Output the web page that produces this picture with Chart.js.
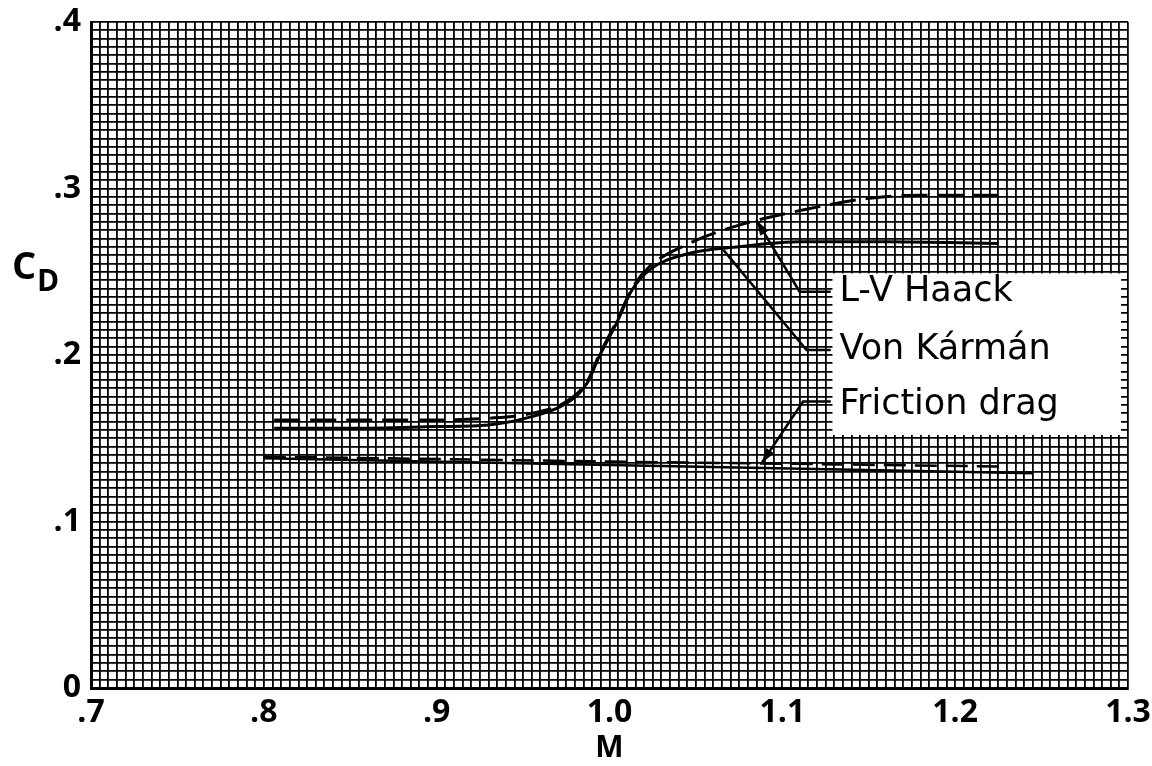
<!DOCTYPE html>
<html>
<head>
<meta charset="utf-8">
<script src="https://cdn.jsdelivr.net/npm/chart.js@4.4.1/dist/chart.umd.min.js"></script>
<style>
  html, body { margin: 0; padding: 0; background: #fff; }
  canvas { display: block; }
</style>
</head>
<body>
<canvas id="dragChart" width="1152" height="766"></canvas>
<script>
// =========================
// DATA
// =========================

const haackM  = [0.806, 0.85, 0.90, 0.93, 0.955, 0.975, 0.987, 0.994, 1.004, 1.013, 1.023, 1.046, 1.075, 1.116, 1.149, 1.18, 1.225];
const haackCD = [0.161, 0.161, 0.161, 0.162, 0.165, 0.172, 0.184, 0.200, 0.220, 0.240, 0.253, 0.267, 0.278, 0.288, 0.294, 0.296, 0.296];

const karmanM  = [0.806, 0.85, 0.90, 0.93, 0.955, 0.975, 0.987, 0.994, 1.004, 1.013, 1.023, 1.046, 1.075, 1.11, 1.16, 1.225];
const karmanCD = [0.156, 0.156, 0.157, 0.158, 0.163, 0.171, 0.183, 0.199, 0.219, 0.239, 0.251, 0.261, 0.265, 0.268, 0.268, 0.267];

const frictionSolidM  = [0.80, 1.00, 1.245];
const frictionSolidCD = [0.138, 0.134, 0.129];

const frictionDashM  = [0.80, 1.00, 1.23];
const frictionDashCD = [0.139, 0.136, 0.133];

// leader lines: label end -> curve end
const haackLeadM  = [1.128, 1.110, 1.085];
const haackLeadCD = [0.238, 0.238, 0.281];

const karmanLeadM  = [1.128, 1.114, 1.066];
const karmanLeadCD = [0.203, 0.203, 0.263];

const frictionLeadM  = [1.128, 1.112, 1.088];
const frictionLeadCD = [0.172, 0.172, 0.135];

const labelNames = ["L-V Haack", "Von Kármán", "Friction drag"];
const labelCD    = [0.238, 0.203, 0.170];

const xTickLabels = { "0.7": ".7", "0.8": ".8", "0.9": ".9", "1": "1.0", "1.1": "1.1", "1.2": "1.2", "1.3": "1.3" };
const yTickLabels = { "0": "0", "0.1": ".1", "0.2": ".2", "0.3": ".3", "0.4": ".4" };

function pts(xs, ys)
{
  return xs.map((x, i) => ({ x: x, y: ys[i] }));
}

function isMajor(v)
{
  return Math.abs(v * 10 - Math.round(v * 10)) < 1e-6;
}

function keyOf(v)
{
  return String(Math.round(v * 10) / 10);
}

// =========================
// PLUGIN: box, labels, arrows
// =========================

const decorPlugin = {
  id: "decor",
  beforeDraw(chart)
  {
    const c = chart.ctx;
    c.save();
    c.fillStyle = "#fff";
    c.fillRect(0, 0, chart.width, chart.height);
    c.restore();
  },
  afterDatasetsDraw(chart)
  {
    const c = chart.ctx;
    const xs = chart.scales.x;
    const ys = chart.scales.y;

    // label box
    const bx0 = xs.getPixelForValue(1.129);
    const bx1 = xs.getPixelForValue(1.296);
    const by0 = ys.getPixelForValue(0.249);
    const by1 = ys.getPixelForValue(0.152);

    c.save();
    c.fillStyle = "#fff";
    c.fillRect(bx0, by0, bx1 - bx0, by1 - by0);

    c.fillStyle = "#000";
    c.font = "35px 'DejaVu Sans'";
    c.textBaseline = "middle";
    c.textAlign = "left";
    labelNames.forEach((name, i) =>
    {
      c.fillText(name, bx0 + 7, ys.getPixelForValue(labelCD[i]));
    });

    // arrow heads on leader ends
    chart.data.datasets.forEach((ds, i) =>
    {
      if(!ds.arrow) return;
      const meta = chart.getDatasetMeta(i);
      const n = meta.data.length;
      const p1 = meta.data[n - 2];
      const p2 = meta.data[n - 1];
      const ang = Math.atan2(p2.y - p1.y, p2.x - p1.x);
      const len = 16;
      c.beginPath();
      c.moveTo(p2.x, p2.y);
      c.lineTo(p2.x - len * Math.cos(ang - 0.3), p2.y - len * Math.sin(ang - 0.3));
      c.lineTo(p2.x - len * Math.cos(ang + 0.3), p2.y - len * Math.sin(ang + 0.3));
      c.closePath();
      c.fill();
    });

    // C_D axis label
    c.font = "bold 38px 'Open Sans'";
    c.textBaseline = "middle";
    c.fillText("C", 12, 268);
    c.font = "bold 30px 'Open Sans'";
    c.fillText("D", 37, 282);
    c.restore();
  }
};

// =========================
// CHART
// =========================

const lineBase = {
  pointRadius: 0,
  borderColor: "#000",
  fill: false
};

const tickFont = { family: "'Open Sans'", size: 32, weight: "bold" };

const ctx = document.getElementById("dragChart");

const dragChart = new Chart(ctx, {
  type: "line",
  data: {
    datasets: [
      Object.assign({}, lineBase, {
        label: "L-V Haack",
        data: pts(haackM, haackCD),
        borderWidth: 3,
        borderDash: [26, 10],
        cubicInterpolationMode: "monotone"
      }),
      Object.assign({}, lineBase, {
        label: "Von Kármán",
        data: pts(karmanM, karmanCD),
        borderWidth: 3,
        cubicInterpolationMode: "monotone"
      }),
      Object.assign({}, lineBase, {
        label: "Friction drag",
        data: pts(frictionSolidM, frictionSolidCD),
        borderWidth: 2.5,
        tension: 0
      }),
      Object.assign({}, lineBase, {
        label: "Friction drag (dashed)",
        data: pts(frictionDashM, frictionDashCD),
        borderWidth: 2.5,
        borderDash: [22, 9],
        tension: 0
      }),
      Object.assign({}, lineBase, {
        label: "lead1",
        data: pts(haackLeadM, haackLeadCD),
        borderWidth: 2.5,
        tension: 0,
        arrow: true
      }),
      Object.assign({}, lineBase, {
        label: "lead2",
        data: pts(karmanLeadM, karmanLeadCD),
        borderWidth: 2.5,
        tension: 0
      }),
      Object.assign({}, lineBase, {
        label: "lead3",
        data: pts(frictionLeadM, frictionLeadCD),
        borderWidth: 2.5,
        tension: 0,
        arrow: true
      })
    ]
  },
  options: {
    responsive: false,
    devicePixelRatio: 1,
    animation: false,
    layout: {
      padding: { top: 22, right: 24, left: 0, bottom: 0 }
    },
    plugins: {
      legend: { display: false },
      tooltip: { enabled: false }
    },
    scales: {
      x: {
        type: "linear",
        min: 0.7,
        max: 1.3,
        afterFit(scale)
        {
          scale.height = 78;
          scale.paddingLeft = 0;
          scale.paddingRight = 0;
        },
        grid: { color: "#000", lineWidth: 1.8, drawTicks: false },
        border: { display: true, color: "#000", width: 3 },
        ticks: {
          stepSize: 0.005,
          autoSkip: false,
          maxRotation: 0,
          padding: 6,
          color: "#000",
          font: tickFont,
          callback: (v) => isMajor(v) ? (xTickLabels[keyOf(v)] || "") : ""
        },
        title: {
          display: true,
          text: "M",
          color: "#000",
          padding: 0,
          font: { family: "'Open Sans'", size: 30, weight: "bold" }
        }
      },
      y: {
        type: "linear",
        min: 0,
        max: 0.4,
        afterFit(scale)
        {
          scale.width = 91;
          scale.paddingTop = 0;
          scale.paddingBottom = 0;
        },
        grid: { color: "#000", lineWidth: 1.8, drawTicks: false },
        border: { display: true, color: "#000", width: 3 },
        ticks: {
          stepSize: 0.005,
          autoSkip: false,
          padding: 10,
          color: "#000",
          font: tickFont,
          callback: (v) => isMajor(v) ? (yTickLabels[keyOf(v)] || "") : ""
        }
      }
    }
  },
  plugins: [decorPlugin]
});
</script>
</body>
</html>
